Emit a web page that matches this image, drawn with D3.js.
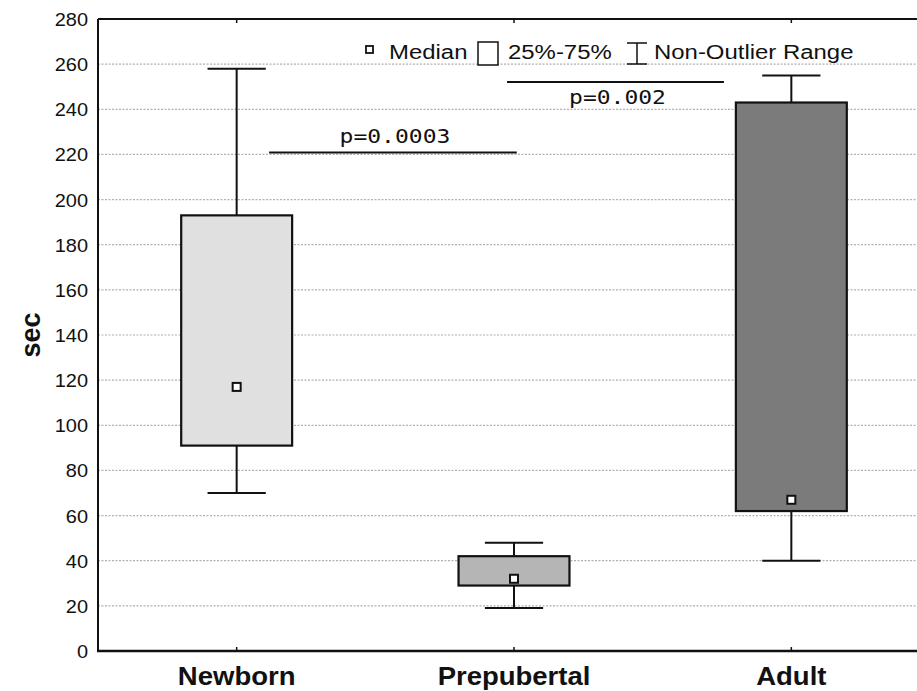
<!DOCTYPE html>
<html>
<head>
<meta charset="utf-8">
<script src="https://cdn.jsdelivr.net/npm/d3@7"></script>
<style>
body{margin:0;background:#fff;}
svg{display:block;}
</style>
</head>
<body>
<svg id="chart" width="917" height="691"></svg>
<script>
// groups and their box plot stats (sec)
const groups = ["Newborn", "Prepubertal", "Adult"];
const whiskerLow  = [70, 19, 40];
const q1          = [91, 29, 62];
const medians     = [117, 32, 67];
const q3          = [193, 42, 243];
const whiskerHigh = [258, 48, 255];
const boxColors   = ["#e0e0e0", "#b5b5b5", "#7b7b7b"];
const yTicks = d3.range(0, 281, 20);

// significance bars: from/to as fractional group index, level in sec
const sigFrom  = [0.117, 0.975];
const sigTo    = [1.01, 1.757];
const sigLevel = [220.8, 252.1];
const sigText  = ["p=0.0003", "p=0.002"];

const svg = d3.select("#chart");
const margin = {left: 98, top: 19, bottom: 651, right: 930};

const x = d3.scaleBand().domain(groups).range([margin.left, margin.right]);
const y = d3.scaleLinear().domain([0, 280]).range([margin.bottom, margin.top]);
const xi = d3.scaleLinear().domain([0, 1]).range([x(groups[0]) + x.bandwidth()/2, x(groups[1]) + x.bandwidth()/2]);

// gridlines
svg.append("g").selectAll("line").data(yTicks.filter(d => d > 0 && d < 280)).join("line")
  .attr("x1", margin.left).attr("x2", margin.right)
  .attr("y1", d => y(d)).attr("y2", d => y(d))
  .attr("stroke", "#b0b0b0").attr("stroke-width", 1.2)
  .attr("stroke-dasharray", "2,1.5");

// y labels
svg.append("g").selectAll("text").data(yTicks).join("text")
  .attr("transform", d => `translate(88,${y(d) + 7}) scale(1.05,1)`)
  .attr("text-anchor", "end")
  .attr("font-family", "Liberation Sans, Arial, sans-serif")
  .attr("font-size", 19)
  .attr("fill", "#111")
  .text(d => d);

// axis title
svg.append("text")
  .attr("transform", `translate(40,335) rotate(-90)`)
  .attr("text-anchor", "middle")
  .attr("font-family", "Liberation Sans, Arial, sans-serif")
  .attr("font-weight", "bold")
  .attr("font-size", 27)
  .attr("fill", "#111")
  .text("sec");

// boxes
const bw = x.bandwidth() * 0.4;
const cw = x.bandwidth() * 0.21;
const bx = g => x(g) + x.bandwidth()/2;

const boxes = svg.append("g").selectAll("g").data(groups).join("g");
boxes.append("line")
  .attr("x1", bx).attr("x2", bx)
  .attr("y1", (d, i) => y(whiskerHigh[i])).attr("y2", (d, i) => y(whiskerLow[i]))
  .attr("stroke", "#111").attr("stroke-width", 2);
boxes.append("line")
  .attr("x1", d => bx(d) - cw/2).attr("x2", d => bx(d) + cw/2)
  .attr("y1", (d, i) => y(whiskerHigh[i])).attr("y2", (d, i) => y(whiskerHigh[i]))
  .attr("stroke", "#111").attr("stroke-width", 2);
boxes.append("line")
  .attr("x1", d => bx(d) - cw/2).attr("x2", d => bx(d) + cw/2)
  .attr("y1", (d, i) => y(whiskerLow[i])).attr("y2", (d, i) => y(whiskerLow[i]))
  .attr("stroke", "#111").attr("stroke-width", 2);
boxes.append("rect")
  .attr("x", d => bx(d) - bw/2).attr("width", bw)
  .attr("y", (d, i) => y(q3[i])).attr("height", (d, i) => y(q1[i]) - y(q3[i]))
  .attr("fill", (d, i) => boxColors[i])
  .attr("stroke", "#111").attr("stroke-width", 2.2);
boxes.append("rect")
  .attr("x", d => bx(d) - 4).attr("width", 8)
  .attr("y", (d, i) => y(medians[i]) - 4).attr("height", 8)
  .attr("fill", "#fff").attr("stroke", "#111").attr("stroke-width", 2);

// significance
const sig = svg.append("g").selectAll("g").data(sigText).join("g");
sig.append("line")
  .attr("x1", (d, i) => xi(sigFrom[i])).attr("x2", (d, i) => xi(sigTo[i]))
  .attr("y1", (d, i) => y(sigLevel[i])).attr("y2", (d, i) => y(sigLevel[i]))
  .attr("stroke", "#111").attr("stroke-width", 2);
sig.append("text")
  .attr("transform", (d, i) => {
    const cx = (xi(sigFrom[i]) + xi(sigTo[i])) / 2 + 2;
    const ty = i === 0 ? y(sigLevel[i]) - 10 : y(sigLevel[i]) + 22;
    return `translate(${cx},${ty}) scale(1.15,1)`;
  })
  .attr("text-anchor", "middle")
  .attr("font-family", "DejaVu Sans Mono, monospace")
  .attr("font-size", 20)
  .attr("fill", "#111")
  .text(d => d);

// frame
svg.append("line").attr("x1", margin.left).attr("x2", margin.left)
  .attr("y1", margin.top).attr("y2", margin.bottom)
  .attr("stroke", "#111").attr("stroke-width", 2);
svg.append("line").attr("x1", margin.left).attr("x2", margin.right)
  .attr("y1", margin.top).attr("y2", margin.top)
  .attr("stroke", "#111").attr("stroke-width", 2);
svg.append("line").attr("x1", margin.left - 1).attr("x2", margin.right)
  .attr("y1", margin.bottom).attr("y2", margin.bottom)
  .attr("stroke", "#111").attr("stroke-width", 2.5);

// category ticks top and bottom
svg.append("g").selectAll("line").data(groups).join("line")
  .attr("x1", bx).attr("x2", bx)
  .attr("y1", margin.bottom).attr("y2", margin.bottom - 4)
  .attr("stroke", "#111").attr("stroke-width", 1.5);
svg.append("g").selectAll("line").data(groups).join("line")
  .attr("x1", bx).attr("x2", bx)
  .attr("y1", margin.top).attr("y2", margin.top + 4)
  .attr("stroke", "#111").attr("stroke-width", 1.5);

// x labels
svg.append("g").selectAll("text").data(groups).join("text")
  .attr("transform", d => `translate(${bx(d)},685) scale(1.1,1)`)
  .attr("text-anchor", "middle")
  .attr("font-family", "Liberation Sans, Arial, sans-serif")
  .attr("font-weight", "bold")
  .attr("font-size", 25)
  .attr("fill", "#111")
  .text(d => d);

// legend
const leg = svg.append("g");
const legFont = t => t.attr("font-family", "Liberation Sans, Arial, sans-serif")
  .attr("font-size", 21).attr("fill", "#111");
leg.append("rect").attr("x", 366).attr("y", 46).attr("width", 7).attr("height", 7)
  .attr("fill", "#fff").attr("stroke", "#111").attr("stroke-width", 1.8);
leg.append("text").attr("transform", "translate(389,59) scale(1.14,1)").call(legFont).text("Median");
leg.append("rect").attr("x", 478).attr("y", 42).attr("width", 20).attr("height", 23)
  .attr("fill", "#fff").attr("stroke", "#111").attr("stroke-width", 1.5);
leg.append("text").attr("transform", "translate(508,59) scale(1.14,1)").call(legFont).text("25%-75%");
leg.append("path").attr("d", "M627,43H647M637,43V64M627,64H647")
  .attr("fill", "none").attr("stroke", "#111").attr("stroke-width", 1.5);
leg.append("text").attr("transform", "translate(654,59) scale(1.14,1)").call(legFont).text("Non-Outlier Range");
</script>
</body>
</html>
